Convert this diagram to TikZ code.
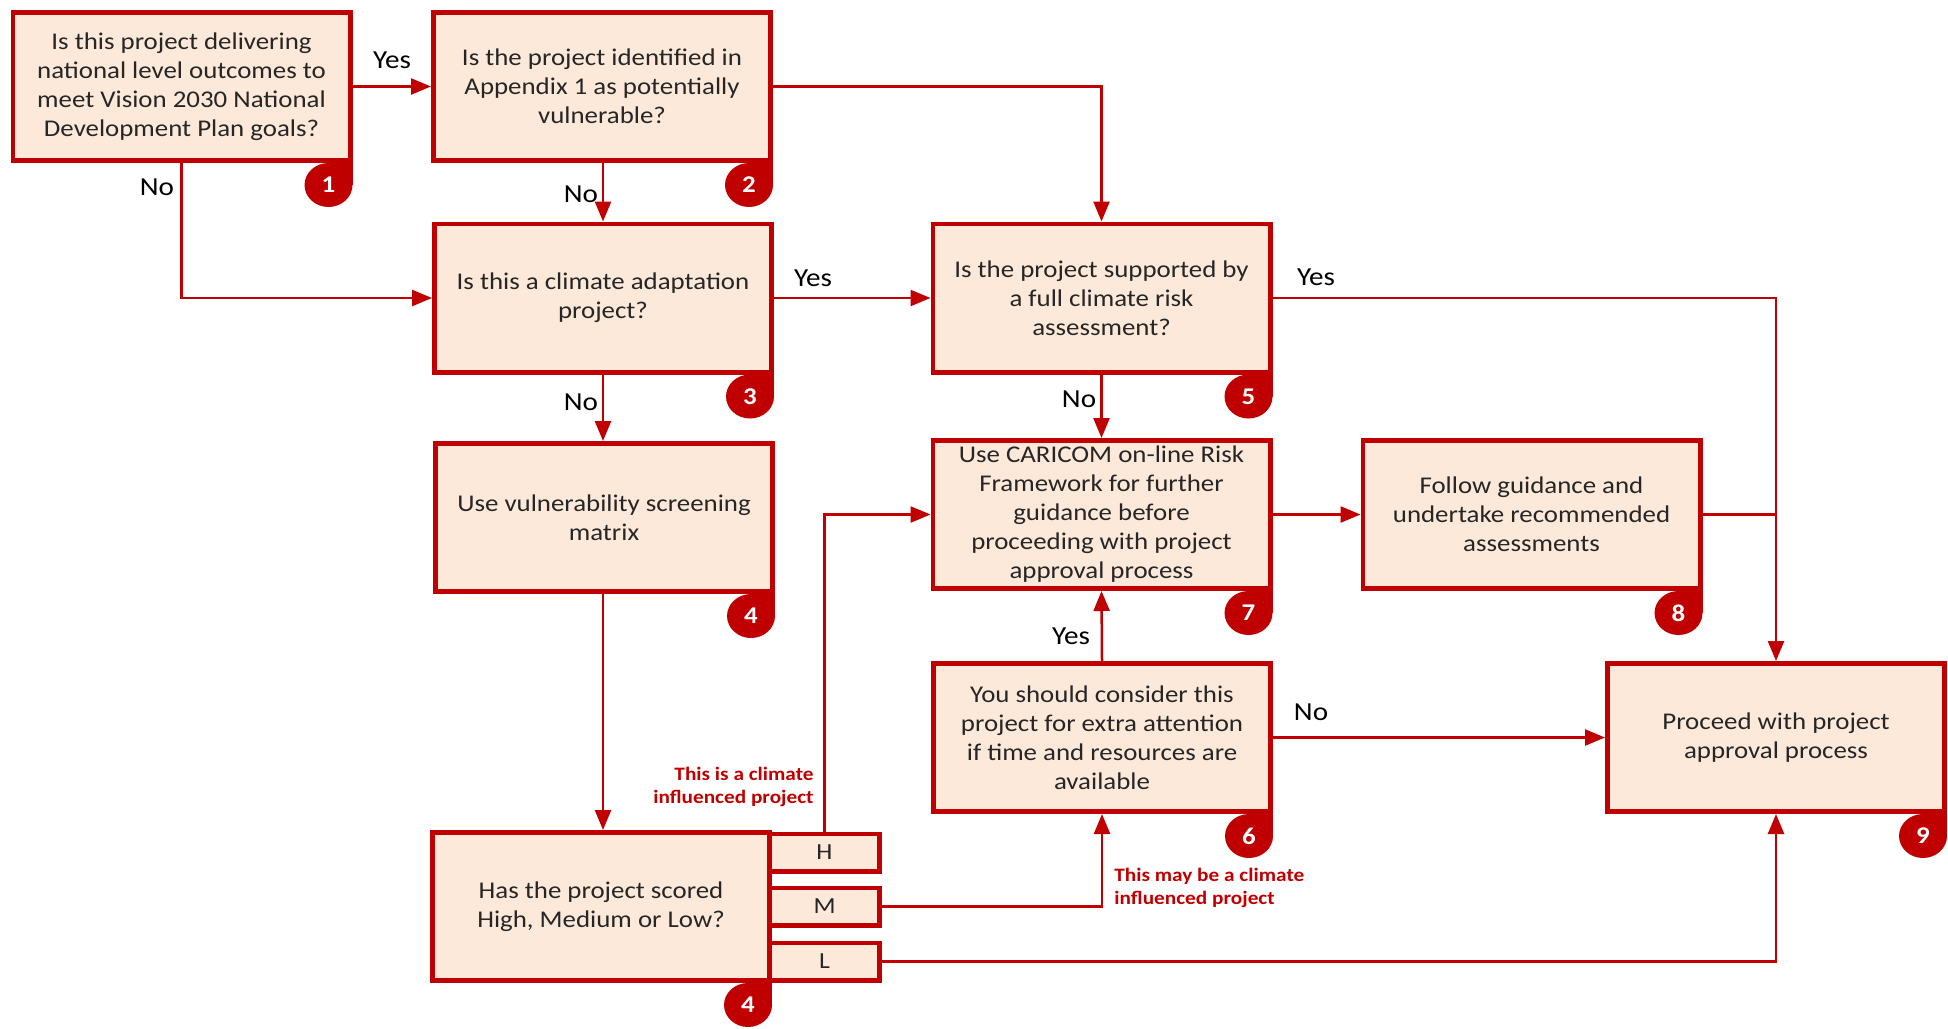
\documentclass[tikz,border=0pt]{standalone}
\usepackage{fontspec}
\setmainfont{Carlito}[FakeStretch=1.12]
\usetikzlibrary{arrows.meta}
\definecolor{dred}{HTML}{C00000}
\definecolor{peach}{HTML}{FDE9D9}
\definecolor{txtc}{HTML}{262626}
\begin{document}
\begin{tikzpicture}[x=0.5pt,y=-0.5pt,
 box/.style={draw=dred, line width=2.4pt, fill=peach, align=center, inner sep=0pt,
   minimum width=168.6pt, minimum height=74.1pt, font=\fontsize{12}{14.5}\selectfont, text=txtc},
 hml/.style={box, minimum width=55pt, minimum height=18.6pt, font=\fontsize{11.5}{13}\selectfont},
 conn/.style={draw=dred, line width=1.25pt},
 arr/.style={conn, -{Triangle[length=10pt,width=8pt]}},
 lbl/.style={font=\fontsize{13}{15}\selectfont, anchor=base, inner sep=0pt, text=black},
 note/.style={font=\fontsize{9.5}{11.5}\selectfont\bfseries, text=dred, inner sep=0pt},
 badgetxt/.style={font=\fontsize{12}{12}\selectfont\bfseries, text=white, inner sep=0pt}
]
\useasboundingbox (0,0) rectangle (1948,1028);
\newcommand\mybadge[2]{%
  \fill[dred] ([shift={(-24,22)}]#1.south east) ellipse [x radius=24, y radius=22];
  \fill[dred] (#1.south east) rectangle ([shift={(-24,22)}]#1.south east);
  \node[badgetxt] (n#1) at ([shift={(-24,22)}]#1.south east) {#2};}

% boxes
\node[box] (b1) at (181.5,86.5) {Is this project delivering\\national level outcomes to\\meet Vision 2030 National\\Development Plan goals?};
\node[box] (b2) at (602,86.5) {Is the project identified in\\Appendix 1 as potentially\\vulnerable?};
\node[box] (b3) at (603,298) {Is this a climate adaptation\\project?};
\node[box] (b5) at (1101.5,298) {Is the project supported by\\a full climate risk\\assessment?};
\node[box] (b4) at (604,517.5) {Use vulnerability screening\\matrix};
\node[box] (b7) at (1101.5,514.5) {Use CARICOM on-line Risk\\Framework for further\\guidance before\\proceeding with project\\approval process};
\node[box] (b8) at (1531.5,514.5) {Follow guidance and\\undertake recommended\\assessments};
\node[box] (b6) at (1102,737.5) {You should consider this\\project for extra attention\\if time and resources are\\available};
\node[box] (b9) at (1776,737.5) {Proceed with project\\approval process};
\node[box] (b4b) at (601,906.5) {Has the project scored\\High, Medium or Low?};
\node[hml] (H) at (824.5,852.5) {H};
\node[hml] (M) at (824.5,906.5) {M};
\node[hml] (L) at (824.5,961.5) {L};

% badges
\mybadge{b1}{1}
\mybadge{b2}{2}
\mybadge{b3}{3}
\mybadge{b4}{4}
\mybadge{b5}{5}
\mybadge{b6}{6}
\mybadge{b7}{7}
\mybadge{b8}{8}
\mybadge{b9}{9}
\mybadge{b4b}{4}

% connectors
\draw[arr] (b1.east) -- (b1.east -| b2.west);
\draw[arr] (b2.east) -| (b5.north);
\draw[arr] (b1.south) |- (b3.west);
\draw[arr] (b2.south -| b3.north) -- (b3.north);
\draw[arr] (b3.east) -- (b5.west);
\draw[arr] (b3.south) -- (b3.south |- b4.north);
\draw[arr] (b4.south -| b3.south) -- (b3.south |- b4b.north);
\draw[arr] (b5.south) -- (b7.north);
\draw[arr] (b5.east) -| (b9.north);
\draw[arr] (b7.east) -- (b8.west);
\draw[conn] (b8.east) -- (b8.east -| b9.north);
\draw[arr] (H.north) |- (b7.west);
\draw[arr] (M.east) -| (b6.south);
\draw[arr] (L.east) -| (b9.south);
\draw[arr] (b6.north) -- (b7.south);
\draw[arr] (b6.east) -- (b9.west);

% labels
\node[lbl] (y1) at (392,68) {Yes};
\node[lbl] (n1) at (157,195) {No};
\node[lbl] (n2) at (581,202) {No};
\node[lbl] (y3) at (813,286) {Yes};
\node[lbl] (n3) at (581,410) {No};
\node[lbl] (n5) at (1079,407) {No};
\node[lbl] (y5) at (1316,285) {Yes};
\node[lbl] (y6) at (1071,644) {Yes};
\node[lbl] (n6) at (1311,720) {No};

\node[note, align=right, anchor=east] (nt1) at (814,787) {This is a climate\\influenced project};
\node[note, align=left, anchor=west] (nt2) at (1114,888) {This may be a climate\\influenced project};
\end{tikzpicture}
\end{document}
